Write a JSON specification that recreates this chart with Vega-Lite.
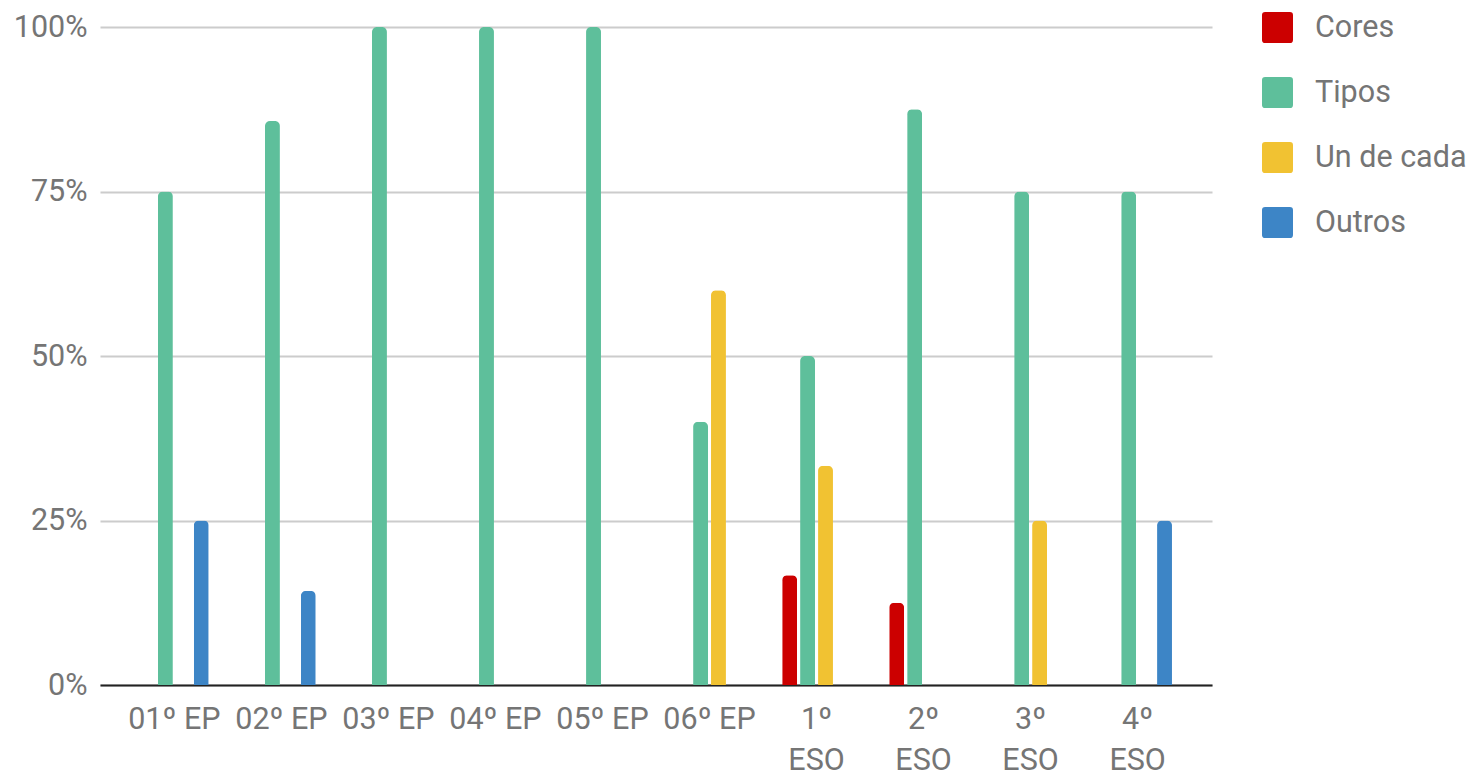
{
  "$schema": "https://vega.github.io/schema/vega-lite/v6.json",
  "width": 1112,
  "height": 658,
  "autosize": {"type": "none"},
  "padding": {"left": 100, "top": 27, "right": 266, "bottom": 91},
  "background": "white",
  "config": {
    "font": "Roboto",
    "view": {"stroke": null}
  },
  "data": {
    "values": [
      {"curso": "01º EP", "serie": "Tipos", "valor": 0.75},
      {"curso": "01º EP", "serie": "Outros", "valor": 0.25},
      {"curso": "02º EP", "serie": "Tipos", "valor": 0.857},
      {"curso": "02º EP", "serie": "Outros", "valor": 0.143},
      {"curso": "03º EP", "serie": "Tipos", "valor": 1.0},
      {"curso": "04º EP", "serie": "Tipos", "valor": 1.0},
      {"curso": "05º EP", "serie": "Tipos", "valor": 1.0},
      {"curso": "06º EP", "serie": "Tipos", "valor": 0.4},
      {"curso": "06º EP", "serie": "Un de cada", "valor": 0.6},
      {"curso": "1º ESO", "serie": "Cores", "valor": 0.1667},
      {"curso": "1º ESO", "serie": "Tipos", "valor": 0.5},
      {"curso": "1º ESO", "serie": "Un de cada", "valor": 0.3333},
      {"curso": "2º ESO", "serie": "Cores", "valor": 0.125},
      {"curso": "2º ESO", "serie": "Tipos", "valor": 0.875},
      {"curso": "3º ESO", "serie": "Tipos", "valor": 0.75},
      {"curso": "3º ESO", "serie": "Un de cada", "valor": 0.25},
      {"curso": "4º ESO", "serie": "Tipos", "valor": 0.75},
      {"curso": "4º ESO", "serie": "Outros", "valor": 0.25}
    ]
  },
  "mark": {"type": "bar", "cornerRadiusTopLeft": 5, "cornerRadiusTopRight": 5},
  "encoding": {
    "x": {
      "field": "curso",
      "type": "nominal",
      "sort": ["01º EP", "02º EP", "03º EP", "04º EP", "05º EP", "06º EP", "1º ESO", "2º ESO", "3º ESO", "4º ESO"],
      "scale": {"paddingInner": 0.33, "paddingOuter": 0.36},
      "axis": {
        "title": null,
        "labelAngle": 0,
        "labelFontSize": 30.5,
        "labelColor": "#757575",
        "labelPadding": 19,
        "labelLineHeight": 41,
        "labelExpr": "indexof(datum.label, 'ESO') > 0 ? split(datum.label, ' ') : datum.label",
        "ticks": false,
        "domainColor": "#222222",
        "domainWidth": 2,
        "grid": false
      }
    },
    "xOffset": {
      "field": "serie",
      "type": "nominal",
      "scale": {"domain": ["Cores", "Tipos", "Un de cada", "Outros"], "paddingInner": 0.167, "paddingOuter": 0.083}
    },
    "y": {
      "field": "valor",
      "type": "quantitative",
      "scale": {"domain": [0, 1], "nice": false},
      "axis": {
        "title": null,
        "format": ".0%",
        "values": [0, 0.25, 0.5, 0.75, 1],
        "labelFontSize": 30.5,
        "labelColor": "#757575",
        "labelPadding": 13,
        "ticks": false,
        "domain": false,
        "gridColor": "#cccccc",
        "gridWidth": 2
      }
    },
    "color": {
      "field": "serie",
      "type": "nominal",
      "scale": {
        "domain": ["Cores", "Tipos", "Un de cada", "Outros"],
        "range": ["#cc0000", "#5ebf9b", "#f1c232", "#3d85c6"]
      },
      "legend": {
        "title": null,
        "orient": "none",
        "legendX": 1162,
        "legendY": -15,
        "symbolType": "M-1,-0.8 Q-1,-1 -0.8,-1 L0.8,-1 Q1,-1 1,-0.8 L1,0.8 Q1,1 0.8,1 L-0.8,1 Q-1,1 -1,0.8 Z",
        "symbolSize": 961,
        "symbolStrokeWidth": 0,
        "symbolOpacity": 1,
        "labelFontSize": 30.5,
        "labelColor": "#757575",
        "labelOffset": 22,
        "rowPadding": 34,
        "labelLimit": 300
      }
    }
  }
}
